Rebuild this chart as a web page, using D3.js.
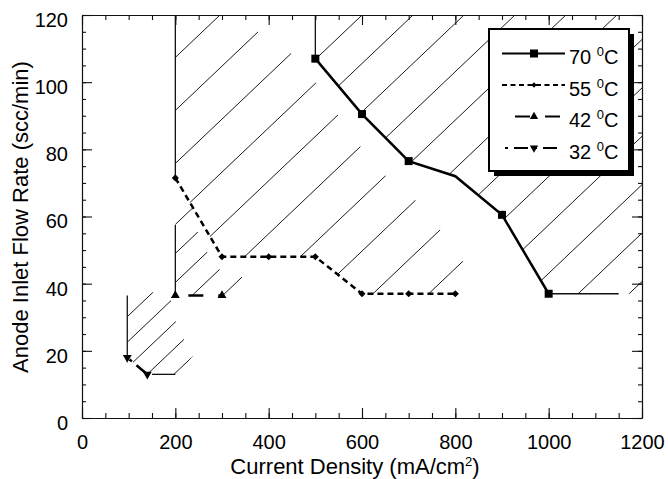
<!DOCTYPE html>
<html>
<head>
<meta charset="utf-8">
<script src="https://cdn.jsdelivr.net/npm/d3@7"></script>
<style>
body { margin: 0; background: #fff; }
text { font-family: "Liberation Sans", Arial, Helvetica, sans-serif; fill: #000; }
</style>
</head>
<body>
<div id="main_div"></div>
<script>
// current density (mA/cm2) vs anode inlet flow rate (scc/min)
var density70 = [500, 600, 700, 800, 900, 1000];
var flow70 = [107, 90.5, 76.5, 72, 60.5, 37];
var marked70 = [1, 1, 1, 0, 1, 1];
var density55 = [200, 300, 400, 500, 600, 700, 800];
var flow55 = [71.5, 48, 48, 48, 37, 37, 37];
var density42 = [200, 300];
var flow42 = [36.5, 36.5];
var density32 = [97, 140];
var flow32 = [18, 13];

var temps = ["70", "55", "42", "32"];
var x_ticks = [0, 200, 400, 600, 800, 1000, 1200];
var y_ticks = [0, 20, 40, 60, 80, 100, 120];

// thin boundary lines [x1, y1, x2, y2]
var edges = [
    [500, 107, 500, 120],
    [200, 71.5, 200, 120],
    [200, 36.5, 200, 57.5],
    [97, 18, 97, 36.5],
    [1000, 37, 1150, 37],
    [150, 13, 200, 13]
];

// hatched areas (outlines in data units)
var area70 = [[500, 120], [500, 107], [600, 90.5], [700, 76.5], [800, 72], [900, 60.5], [1000, 37], [1200, 37], [1200, 120]];
var area55 = [[200, 120], [200, 71.5], [300, 48], [400, 48], [500, 48], [600, 37], [820, 37], [816, 47], [773, 55], [731, 63], [658, 71], [606, 79], [495, 101], [439, 110], [371, 115.5], [290, 120]];
var area42 = [[200, 57.5], [200, 36.5], [345, 36.5], [343, 42], [296, 44], [268, 49.5], [246, 56], [238, 63], [200, 63]];
var area32 = [[97, 37], [97, 18], [140, 13], [205, 13], [238, 18.5], [218, 23.5], [200, 29], [190, 35.5], [150, 37.5]];

var x_scale = d3.scaleLinear().domain([0, 1200]).range([82, 642]);
var y_scale = d3.scaleLinear().domain([0, 120]).range([418, 15]);

var svg = d3.select("#main_div").append("svg").attr("width", 668).attr("height", 479);
var defs = svg.append("defs");
var poly = d3.line().x(function(d) { return x_scale(d[0]); }).y(function(d) { return y_scale(d[1]); });

// hatching: lines y = c - 0.95 x in pixels, clipped to each area
var slope = 0.95;
var hatches = [
    {id: "h70", pts: area70, c0: 359, step: 48.4},
    {id: "h55", pts: area55, c0: 224, step: 53},
    {id: "h42", pts: area42, c0: 391, step: 29},
    {id: "h32", pts: area32, c0: 437.6, step: 25.5}
];
hatches.forEach(function(h) {
    defs.append("clipPath").attr("id", h.id).append("path").attr("d", poly(h.pts) + "Z");
    var cs = d3.range(-30, 30).map(function(k) { return h.c0 + k * h.step; });
    svg.append("g").attr("clip-path", "url(#" + h.id + ")")
        .selectAll("line").data(cs).enter().append("line")
        .attr("x1", 82).attr("x2", 642)
        .attr("y1", function(c) { return c - slope * 82; })
        .attr("y2", function(c) { return c - slope * 642; })
        .attr("stroke", "#1a1a1a").attr("stroke-width", 1);
});

// axes, ticks inward on all four sides
function styleAxis(g) {
    g.attr("font-size", 20).attr("font-family", "Liberation Sans, Arial, sans-serif");
    g.selectAll("path, line").attr("stroke", "#111").attr("stroke-width", 1.1);
}
svg.append("g").attr("transform", "translate(0,418)")
    .call(d3.axisBottom(x_scale).tickValues(d3.range(0, 1201, 50)).tickSize(-5).tickSizeOuter(0).tickFormat(""))
    .call(styleAxis);
svg.append("g").attr("transform", "translate(0,418)")
    .call(d3.axisBottom(x_scale).tickValues(x_ticks).tickSize(-10).tickSizeOuter(0).tickPadding(17).tickFormat(d3.format("d")))
    .call(styleAxis);
svg.append("g").attr("transform", "translate(0,15)")
    .call(d3.axisTop(x_scale).tickValues(d3.range(0, 1201, 50)).tickSize(-5).tickSizeOuter(0).tickFormat(""))
    .call(styleAxis);
svg.append("g").attr("transform", "translate(0,15)")
    .call(d3.axisTop(x_scale).tickValues(x_ticks).tickSize(-10).tickSizeOuter(0).tickFormat(""))
    .call(styleAxis);
svg.append("g").attr("transform", "translate(82,0)")
    .call(d3.axisLeft(y_scale).tickValues(d3.range(0, 121, 5)).tickSize(-4).tickSizeOuter(0).tickFormat(""))
    .call(styleAxis);
var g_y = svg.append("g").attr("transform", "translate(82,0)")
    .call(d3.axisLeft(y_scale).tickValues(y_ticks).tickSize(-10).tickSizeOuter(0).tickPadding(14).tickFormat(d3.format("d")))
    .call(styleAxis);
g_y.selectAll("text").attr("dy", "0.57em");
svg.append("g").attr("transform", "translate(642,0)")
    .call(d3.axisRight(y_scale).tickValues(d3.range(0, 121, 5)).tickSize(-4).tickSizeOuter(0).tickFormat(""))
    .call(styleAxis);
svg.append("g").attr("transform", "translate(642,0)")
    .call(d3.axisRight(y_scale).tickValues(y_ticks).tickSize(-10).tickSizeOuter(0).tickFormat(""))
    .call(styleAxis);

// thin boundary lines
svg.append("g").selectAll("line").data(edges).enter().append("line")
    .attr("x1", function(d) { return x_scale(d[0]); })
    .attr("y1", function(d) { return y_scale(d[1]); })
    .attr("x2", function(d) { return x_scale(d[2]); })
    .attr("y2", function(d) { return y_scale(d[3]); })
    .attr("stroke", "#111").attr("stroke-width", 1.3);

var series = [
    {xs: density70, ys: flow70, marked: marked70, dash: null, offset: 0, sym: d3.symbolSquare, size: 64, rot: 0, lsize: 64},
    {xs: density55, ys: flow55, marked: null, dash: "6,4", offset: 0, sym: d3.symbolSquare, size: 25, rot: 45, lsize: 14},
    {xs: density42, ys: flow42, marked: null, dash: "15,15", offset: 17, sym: d3.symbolTriangle, size: 34, rot: 0, lsize: 30},
    {xs: density32, ys: flow32, marked: null, dash: "3,6,14,6", offset: -3, sym: d3.symbolTriangle, size: 34, rot: 180, lsize: 30}
];

var line = d3.line().x(function(d) { return x_scale(d[0]); }).y(function(d) { return y_scale(d[1]); });
series.forEach(function(s) {
    var pts = s.xs.map(function(v, i) { return [v, s.ys[i]]; });
    var path = svg.append("path").attr("d", line(pts)).attr("fill", "none")
        .attr("stroke", "#000").attr("stroke-width", 2.5);
    if (s.dash) path.attr("stroke-dasharray", s.dash).attr("stroke-dashoffset", s.offset);
    var shown = pts.filter(function(p, i) { return !s.marked || s.marked[i]; });
    svg.append("g").selectAll("path").data(shown).enter().append("path")
        .attr("d", d3.symbol().type(s.sym).size(s.size))
        .attr("transform", function(d) {
            return "translate(" + x_scale(d[0]) + "," + y_scale(d[1]) + ") rotate(" + s.rot + ")";
        })
        .attr("fill", "#000");
});

// legend
svg.append("rect").attr("x", 494).attr("y", 34).attr("width", 140).attr("height", 142).attr("fill", "#000");
svg.append("rect").attr("x", 489).attr("y", 29).attr("width", 140).attr("height", 142)
    .attr("fill", "#fff").attr("stroke", "#000").attr("stroke-width", 2);
series.forEach(function(s, i) {
    var ry = 53.5 + i * 31.5;
    var l = svg.append("line").attr("x1", 502).attr("x2", i == 3 ? 560 : 565).attr("y1", ry).attr("y2", ry)
        .attr("stroke", "#000").attr("stroke-width", 2);
    if (s.dash) l.attr("stroke-dasharray", i == 1 ? "5,3.5" : s.dash).attr("stroke-dashoffset", s.offset);
    svg.append("path").attr("d", d3.symbol().type(s.sym).size(s.lsize))
        .attr("transform", "translate(534," + ry + ") rotate(" + s.rot + ")").attr("fill", "#000");
    var t = svg.append("text").attr("x", 569).attr("y", ry + 10.5).attr("font-size", 20);
    t.append("tspan").text(temps[i] + " ");
    t.append("tspan").attr("font-size", 13).attr("dy", -8).text("0");
    t.append("tspan").attr("dy", 8).text("C");
});

// axis titles
var xt = svg.append("text").attr("x", 355).attr("y", 474).attr("text-anchor", "middle").attr("font-size", 22);
xt.append("tspan").text("Current Density (mA/cm");
xt.append("tspan").attr("font-size", 13).attr("dy", -8).text("2");
xt.append("tspan").attr("dy", 8).text(")");
svg.append("text").attr("transform", "translate(28,217) rotate(-90)")
    .attr("text-anchor", "middle").attr("font-size", 22)
    .text("Anode Inlet Flow Rate (scc/min)");
</script>
</body>
</html>
